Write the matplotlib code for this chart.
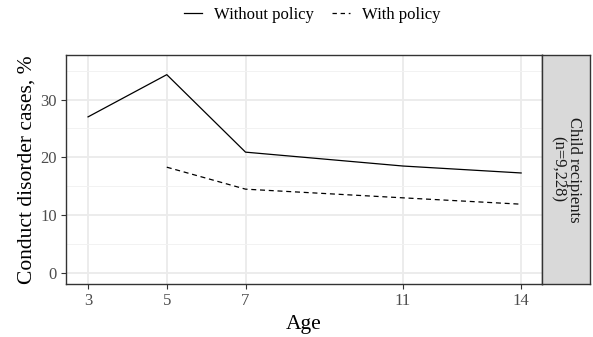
import matplotlib.pyplot as plt
from matplotlib.lines import Line2D

plt.rcParams['font.family'] = ['Liberation Serif', 'DejaVu Serif']

ages = [3, 5, 7, 11, 14]
without_policy = [27.0, 34.3, 20.9, 18.5, 17.3]
ages_policy = [5, 7, 11, 14]
with_policy = [18.3, 14.5, 13.0, 11.9]
yticks = [0, 10, 20, 30]
strip_label = 'Child recipients\n(n=9,228)'

W, H = 593, 337
fig = plt.figure(figsize=(W / 100, H / 100), dpi=100)

def px(l, t, r, b):
    return [l / W, 1 - b / H, (r - l) / W, (b - t) / H]

ax = fig.add_axes(px(66, 55, 542, 284))
ax.plot(ages, without_policy, color='black', lw=0.9)
ax.plot(ages_policy, with_policy, color='black', lw=0.9, ls=(0, (4, 3)))
ax.set_xlim(2.44, 14.53)
ax.set_ylim(-1.9, 37.7)
ax.set_xticks(ages)
ax.set_yticks(yticks)
ax.set_yticks([5, 15, 25, 35], minor=True)
ax.grid(True, which='major', color='#ebebeb', lw=1.3)
ax.grid(True, which='minor', axis='y', color='#f2f2f2', lw=0.7)
ax.set_axisbelow(True)
for s in ax.spines.values():
    s.set_color('#333333')
    s.set_linewidth(1.0)
ax.tick_params(which='major', direction='out', length=3.5, width=0.8, color='#333333',
               labelsize=12, labelcolor='#4d4d4d', pad=3)
ax.tick_params(which='minor', length=0)
ax.set_xlabel('Age', fontsize=15.5, labelpad=4)
ax.set_ylabel('Conduct disorder cases, %', fontsize=15.5, labelpad=3)

sax = fig.add_axes(px(542, 55, 590, 284))
sax.set_facecolor('#d9d9d9')
sax.set_xticks([])
sax.set_yticks([])
for s in sax.spines.values():
    s.set_color('#333333')
    s.set_linewidth(1.0)
sax.text(0.5, 0.5, strip_label, rotation=-90, ha='center', va='center',
         fontsize=12, color='#1a1a1a', transform=sax.transAxes, linespacing=1.0)

handles = [Line2D([], [], color='black', lw=0.9),
           Line2D([], [], color='black', lw=0.9, ls=(0, (3.5, 3)))]
fig.legend(handles, ['Without policy', 'With policy'], loc='center',
           bbox_to_anchor=(312 / W, 1 - 15 / H), ncol=2, frameon=False,
           fontsize=12, handlelength=1.1, handletextpad=0.7, columnspacing=1.1)

fig.savefig('out.png', dpi=100)
